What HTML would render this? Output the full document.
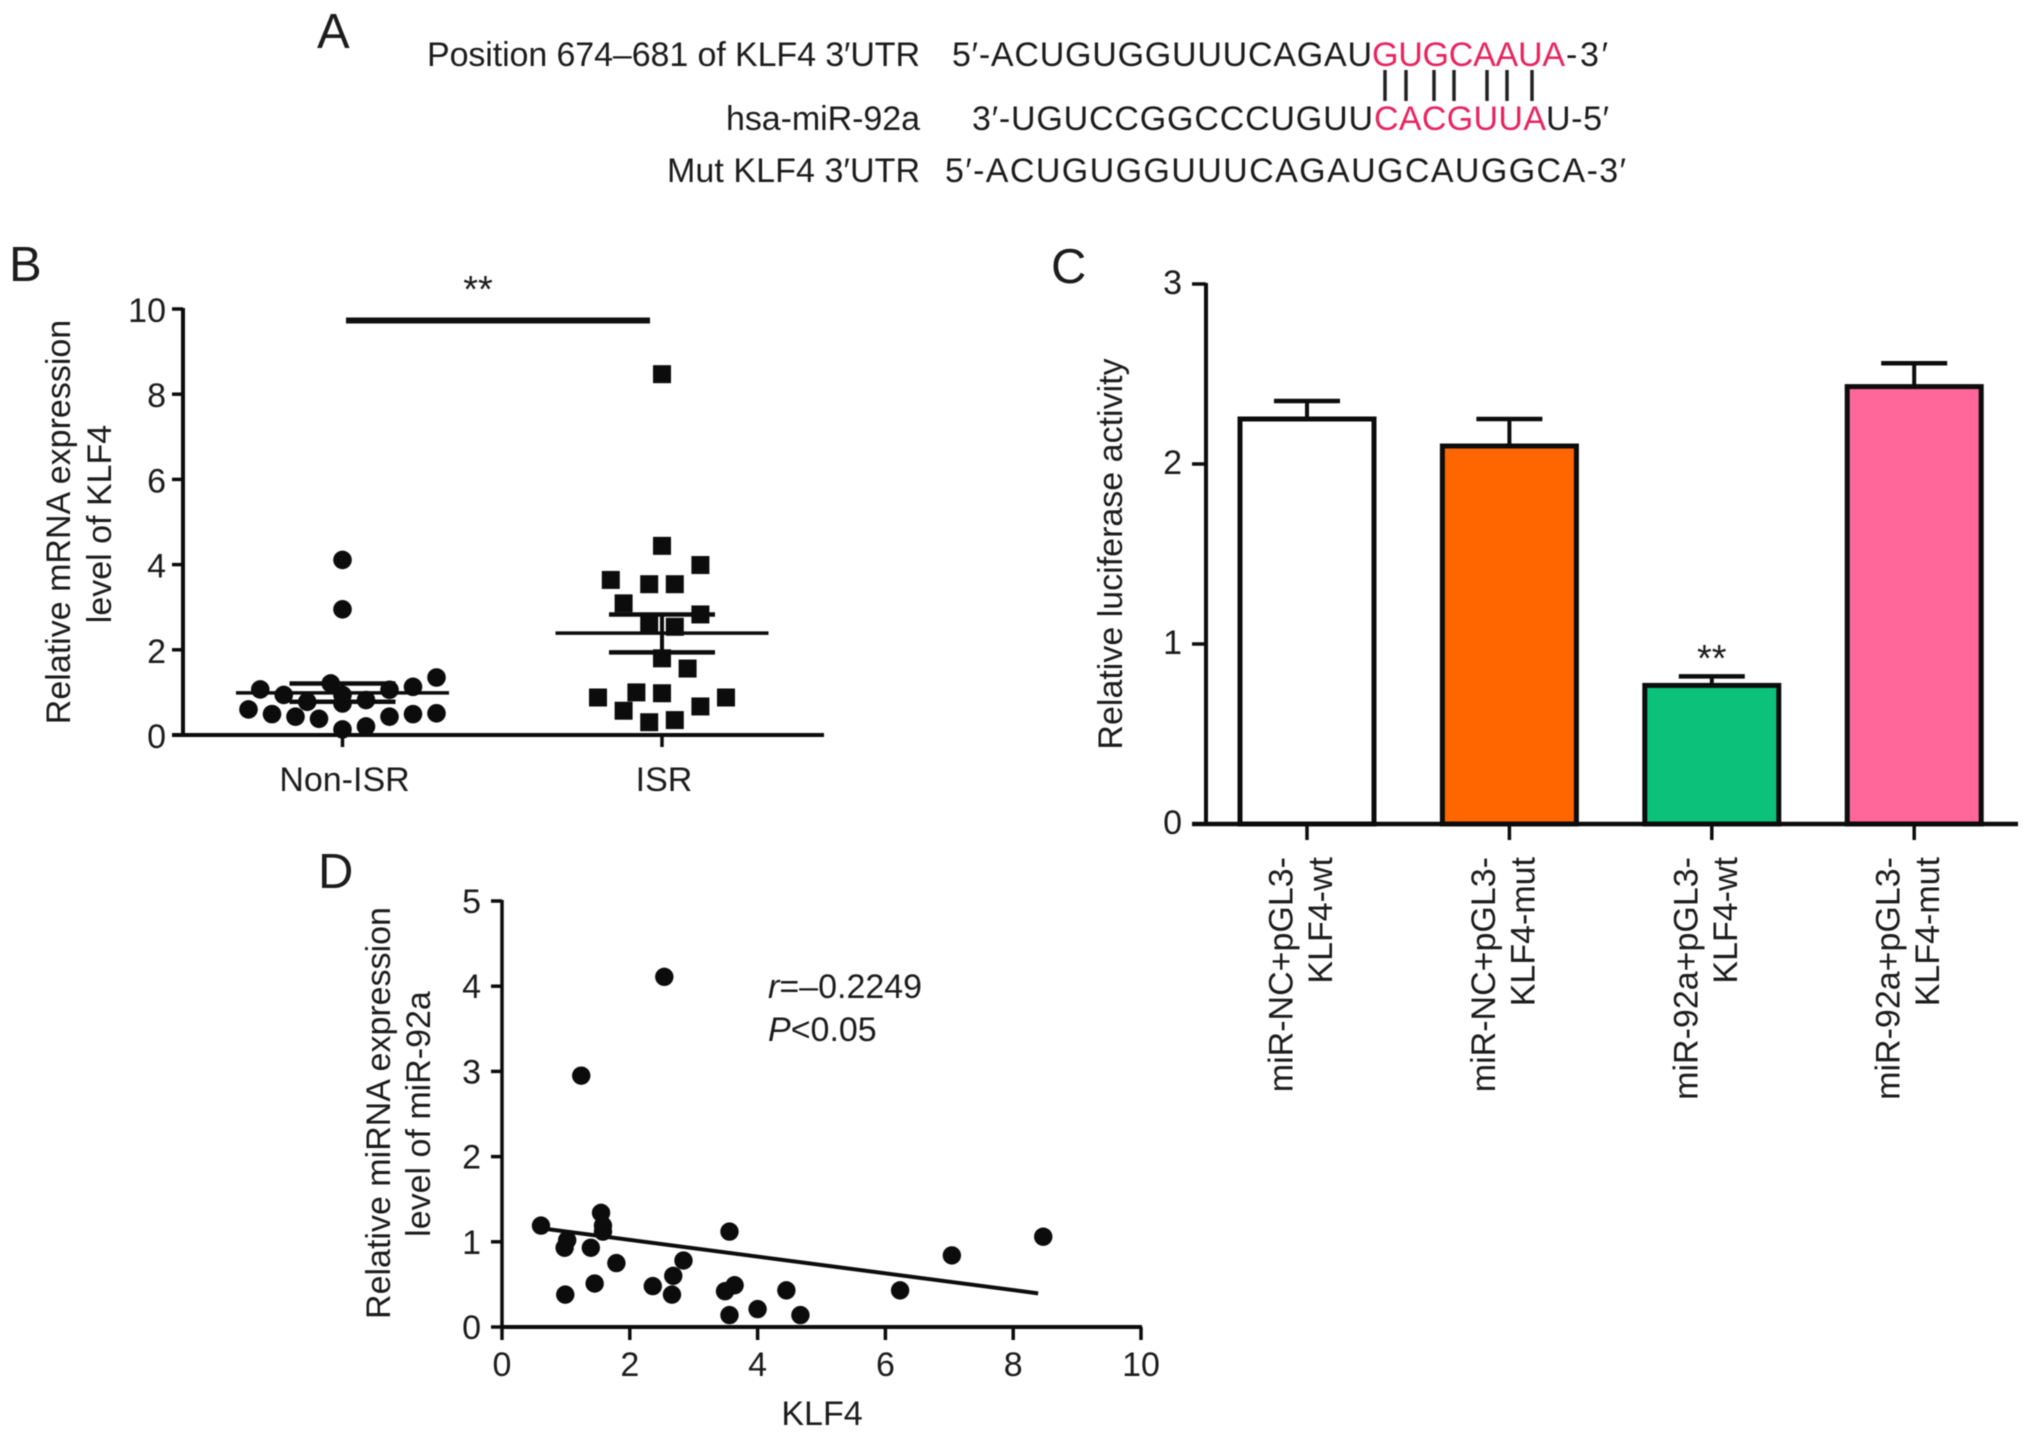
<!DOCTYPE html>
<html lang="en">
<head>
<meta charset="utf-8">
<title>KLF4 and miR-92a figure</title>
<style>
html,body{margin:0;padding:0;background:#fff;}
svg{display:block;filter:blur(0.5px);}
text{font-family:"Liberation Sans",sans-serif;fill:#1c1c1c;font-size:34px;}
.panel{font-size:49px;}
.stars{font-size:38px;}
.red{fill:#e8245f;}
</style>
</head>
<body>
<svg id="fig" xmlns="http://www.w3.org/2000/svg" width="2032" height="1436" viewBox="0 0 2032 1436">
  <rect x="0" y="0" width="2032" height="1436" fill="#fff"/>

  <g>
    <text class="panel" x="317" y="48">A</text>
    <text x="427" y="66" textLength="493">Position 674–681 of KLF4 3′UTR</text>
    <text x="952" y="66" textLength="420">5′-ACUGUGGUUUCAGAU</text>
    <text class="red" x="1372" y="66" textLength="193">GUGCAAUA</text>
    <text x="1566" y="66" textLength="42">-3′</text>
    <g stroke="#222" stroke-width="3.5">
      <line x1="1385" y1="70" x2="1385" y2="101"/>
      <line x1="1406" y1="70" x2="1406" y2="101"/>
      <line x1="1434" y1="70" x2="1434" y2="101"/>
      <line x1="1454" y1="70" x2="1454" y2="101"/>
      <line x1="1487" y1="70" x2="1487" y2="101"/>
      <line x1="1507" y1="70" x2="1507" y2="101"/>
      <line x1="1532" y1="70" x2="1532" y2="101"/>
    </g>
    <text x="726" y="130" textLength="194">hsa-miR-92a</text>
    <text x="972" y="130" textLength="401">3′-UGUCCGGCCCUGUU</text>
    <text class="red" x="1374" y="130" textLength="172">CACGUUA</text>
    <text x="1546" y="130" textLength="63">U-5′</text>
    <text x="667" y="182" textLength="253">Mut KLF4 3′UTR</text>
    <text x="945" y="182" textLength="681">5′-ACUGUGGUUUCAGAUGCAUGGCA-3′</text>
  </g>

  <g id="panelB">
    <text class="panel" x="9" y="281">B</text>
    <text transform="translate(70,522) rotate(-90)" text-anchor="middle">Relative mRNA expression</text>
    <text transform="translate(111,524) rotate(-90)" text-anchor="middle">level of KLF4</text>
    <line x1="346" y1="320.5" x2="650" y2="320.5" stroke="#111" stroke-width="6"/>
    <text class="stars" x="478" y="302" text-anchor="middle">**</text>
  </g>

  <g id="panelC">
    <text class="panel" x="1051" y="283">C</text>
    <text transform="translate(1122,554) rotate(-90)" text-anchor="middle">Relative luciferase activity</text>
  </g>

  <g id="panelD">
    <text class="panel" x="318" y="888">D</text>
    <text transform="translate(390,1113) rotate(-90)" text-anchor="middle">Relative miRNA expression</text>
    <text transform="translate(430,1114) rotate(-90)" text-anchor="middle">level of miR-92a</text>
    <text x="822" y="1425" text-anchor="middle">KLF4</text>
    <text x="768" y="998"><tspan font-style="italic">r</tspan>=–0.2249</text>
    <text x="768" y="1041"><tspan font-style="italic">P</tspan>&lt;0.05</text>
  </g>
</svg>

<script>
// Panel B data
const groupNamesB = ['Non-ISR', 'ISR'];
const ticksB = [0, 2, 4, 6, 8, 10];
const nonIsrValues = [4.11, 2.95, 1.35, 1.21, 1.07, 1.13, 1.06, 0.94, 0.94, 0.78, 0.82, 0.74, 0.60, 0.49, 0.43, 0.38, 0.43, 0.49, 0.51, 0.13, 0.20];
const nonIsrSlots = [0, 0, 8, -1, -7, 6, 4, -5, 0, -3, 2, 0, -8, -6, -4, -2, 4, 6, 8, 0, 2];
const isrValues = [8.47, 4.44, 3.99, 3.64, 3.54, 3.54, 3.09, 2.83, 2.62, 2.54, 1.80, 1.56, 1.00, 0.98, 0.88, 0.88, 0.67, 0.57, 0.35, 0.30];
const isrSlots = [0, 0, 3, -4, -1, 1, -3, 3, -1, 1, 0, 2, -2, 0, -5, 5, 3, -3, 1, -1];
const meansB = [0.99, 2.39];
const semUpperB = [1.21, 2.83];
const semLowerB = [0.78, 1.94];

// Panel C data
const categoriesC = [
  ['miR-NC+pGL3-', 'KLF4-wt'],
  ['miR-NC+pGL3-', 'KLF4-mut'],
  ['miR-92a+pGL3-', 'KLF4-wt'],
  ['miR-92a+pGL3-', 'KLF4-mut']
];
const barValuesC = [2.25, 2.10, 0.77, 2.43];
const barErrorsC = [0.10, 0.15, 0.05, 0.13];
const barColorsC = ['#ffffff', '#ff6600', '#0cc27a', '#ff6699'];
const ticksC = [0, 1, 2, 3];

// Panel D data
const scatterX = [2.54, 1.24, 1.55, 0.61, 1.58, 1.58, 3.56, 8.47, 1.02, 0.98, 1.39, 7.04, 2.84, 1.79, 2.68, 2.36, 1.45, 3.64, 3.49, 4.45, 6.23, 0.99, 2.66, 4.00, 3.56, 4.67];
const scatterY = [4.11, 2.95, 1.34, 1.19, 1.19, 1.12, 1.12, 1.06, 1.02, 0.93, 0.93, 0.84, 0.78, 0.75, 0.60, 0.48, 0.51, 0.49, 0.42, 0.43, 0.43, 0.38, 0.38, 0.21, 0.14, 0.14];
const fitLineX = [0.70, 8.39];
const fitLineY = [1.15, 0.395];
const ticksDX = [0, 2, 4, 6, 8, 10];
const ticksDY = [0, 1, 2, 3, 4, 5];

const NS = 'http://www.w3.org/2000/svg';
const INK = '#0c0c0c';

function make(parent, tag, attrs, content) {
  const el = document.createElementNS(NS, tag);
  for (const k in attrs) el.setAttribute(k, attrs[k]);
  if (content !== undefined) el.textContent = content;
  parent.appendChild(el);
  return el;
}

function line(parent, x1, y1, x2, y2, width) {
  return make(parent, 'line', { x1: x1, y1: y1, x2: x2, y2: y2, stroke: INK, 'stroke-width': width });
}

// ---------- Panel B ----------
const gB = document.getElementById('panelB');
const yB = v => 735 - 42.6 * v;
const xB = i => 342.5 + 319.5 * i;
const circleStep = 11.75;
const squareStep = 12.8;

const axisYB = line(gB, 183, yB(10) - 1, 183, yB(0), 4);


const axisXB = line(gB, 172, yB(0), 824, yB(0), 4);



ticksB.forEach(t => {
  const tick = line(gB, 172, yB(t), 183, yB(t), 3.5);
  
  
  const label = make(gB, 'text', { x: 166, y: yB(t) + 13, 'text-anchor': 'end' }, String(t));
  
  
});

groupNamesB.forEach((name, i) => {
  const tick = line(gB, xB(i), yB(0), xB(i), 747, 3.5);
  
  
  const label = make(gB, 'text', { x: xB(i) + 2, y: 791, 'text-anchor': 'middle' }, name);
  
  
});

nonIsrValues.forEach((v, i) => {
  const pt = make(gB, 'circle', { cx: xB(0) + nonIsrSlots[i] * circleStep, cy: yB(v), r: 9.3, fill: INK });
  
  
});

isrValues.forEach((v, i) => {
  const cx = xB(1) + isrSlots[i] * squareStep;
  const pt = make(gB, 'rect', { x: cx - 9, y: yB(v) - 9, width: 18, height: 18, fill: INK });
  
  
});

groupNamesB.forEach((name, i) => {
  const cx = xB(i);
  const mean = line(gB, cx - 106.5, yB(meansB[i]), cx + 106.5, yB(meansB[i]), 3.5);
  
  
  const stem = line(gB, cx, yB(semUpperB[i]), cx, yB(semLowerB[i]), 4);
  
  
  const up = line(gB, cx - 53, yB(semUpperB[i]), cx + 53, yB(semUpperB[i]), 4.5);
  
  
  const low = line(gB, cx - 53, yB(semLowerB[i]), cx + 53, yB(semLowerB[i]), 4.5);
  
  
});

// ---------- Panel C ----------
const gC = document.getElementById('panelC');
const yC = v => 824 - 180 * v;
const xC = i => 1307 + 202.4 * i;
const BAR_W = 134;

const lowerLabelTop = 857;
categoriesC.forEach((lines, i) => {
  const cx = xC(i);
  const err = barErrorsC[i];
  const val = barValuesC[i];
  const stem = line(gC, cx, yC(val + err), cx, yC(val), 4);
  
  
  const cap = line(gC, cx - 33, yC(val + err), cx + 33, yC(val + err), 4.5);
  
  
  const bar = make(gC, 'rect', {
    x: cx - BAR_W / 2, y: yC(val), width: BAR_W, height: yC(0) - yC(val),
    fill: barColorsC[i], stroke: INK, 'stroke-width': 5
  });
  
  
  const tick = line(gC, cx, yC(0), cx, 840, 3.5);
  
  
  const l1 = make(gC, 'text', {
    transform: 'translate(' + (cx - 14.5) + ',' + lowerLabelTop + ') rotate(-90)',
    'text-anchor': 'end'
  }, lines[0]);
  
  
  const l2 = make(gC, 'text', {
    transform: 'translate(' + (cx + 25) + ',' + lowerLabelTop + ') rotate(-90)',
    'text-anchor': 'end'
  }, lines[1]);
  
  
});

const axisYC = line(gC, 1206, yC(3) - 1, 1206, yC(0), 4);


const axisXC = line(gC, 1192, yC(0), 2018, yC(0), 4.5);



ticksC.forEach(t => {
  const tick = line(gC, 1192, yC(t), 1206, yC(t), 3.5);
  
  
  const label = make(gC, 'text', { x: 1182, y: yC(t) + 10, 'text-anchor': 'end' }, String(t));
  
  
});

const starsC = make(gC, 'text', { x: xC(2), y: 671, 'text-anchor': 'middle', class: 'stars' }, '**');



// ---------- Panel D ----------
const gD = document.getElementById('panelD');
const xD = v => 502 + 63.9 * v;
const yD = v => 1327 - 85.2 * v;

const axisYD = line(gD, xD(0), yD(5) - 1, xD(0), yD(0), 3.5);


const axisXD = line(gD, xD(0) - 1, yD(0), xD(10) + 1, yD(0), 4);



ticksDX.forEach(t => {
  const tick = line(gD, xD(t), yD(0), xD(t), 1340, 3.5);
  
  
  const label = make(gD, 'text', { x: xD(t), y: 1376, 'text-anchor': 'middle' }, String(t));
  
  
});

ticksDY.forEach(t => {
  const tick = line(gD, 491, yD(t), xD(0), yD(t), 3.5);
  
  
  const label = make(gD, 'text', { x: 481, y: yD(t) + 12, 'text-anchor': 'end' }, String(t));
  
  
});

const fit = line(gD, xD(fitLineX[0]), yD(fitLineY[0]), xD(fitLineX[1]), yD(fitLineY[1]), 4);



scatterX.forEach((x, i) => {
  const pt = make(gD, 'circle', { cx: xD(x), cy: yD(scatterY[i]), r: 9.2, fill: INK });
  
  
});
</script>
</body>
</html>
